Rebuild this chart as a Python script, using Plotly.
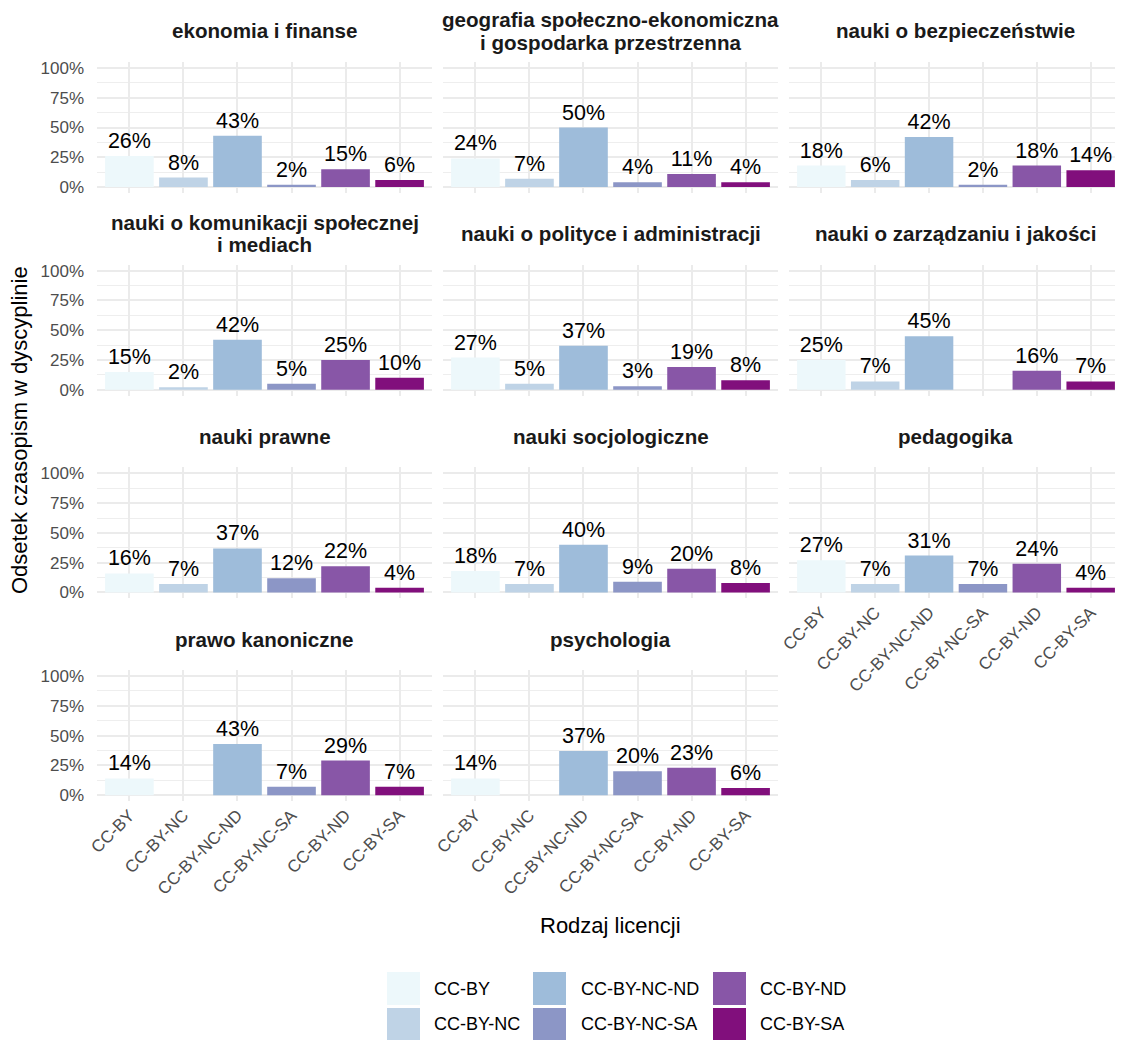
import plotly.graph_objects as go

# ---------------- data ----------------
licenses = ["CC-BY", "CC-BY-NC", "CC-BY-NC-ND", "CC-BY-NC-SA", "CC-BY-ND", "CC-BY-SA"]
colors = ["#edf8fb", "#bfd3e6", "#9ebcda", "#8c96c6", "#8856a7", "#810f7c"]

disciplines = [
    "ekonomia i finanse",
    "geografia społeczno-ekonomiczna\ni gospodarka przestrzenna",
    "nauki o bezpieczeństwie",
    "nauki o komunikacji społecznej\ni mediach",
    "nauki o polityce i administracji",
    "nauki o zarządzaniu i jakości",
    "nauki prawne",
    "nauki socjologiczne",
    "pedagogika",
    "prawo kanoniczne",
    "psychologia",
]

ekonomia = [26, 8, 43, 2, 15, 6]
geografia = [24, 7, 50, 4, 11, 4]
bezpieczenstwo = [18, 6, 42, 2, 18, 14]
komunikacja = [15, 2, 42, 5, 25, 10]
polityka = [27, 5, 37, 3, 19, 8]
zarzadzanie = [25, 7, 45, None, 16, 7]
prawne = [16, 7, 37, 12, 22, 4]
socjologia = [18, 7, 40, 9, 20, 8]
pedagogika = [27, 7, 31, 7, 24, 4]
kanoniczne = [14, None, 43, 7, 29, 7]
psychologia = [14, None, 37, 20, 23, 6]

values = [ekonomia, geografia, bezpieczenstwo, komunikacja, polityka, zarzadzanie,
          prawne, socjologia, pedagogika, kanoniczne, psychologia]

ytick_vals = [0, 25, 50, 75, 100]
ytick_text = ["0%", "25%", "50%", "75%", "100%"]
ytick_minor = [12.5, 37.5, 62.5, 87.5]

# ---------------- layout helpers ----------------
# the page body adds an 8px margin, so the figure is made smaller and
# all page-pixel positions are shifted by that offset
OFF = 8
W, H = 1123 - OFF, 1041 - OFF
FONT = "Liberation Sans, Arial, Helvetica, sans-serif"


def fx(px):
    return (px - OFF) / W


def fy(py):
    return 1 - (py - OFF) / H


col_px = [(97, 432), (443, 778), (789, 1123)]
row_step = 202.7
row_top0 = 62
panel_h = 131
strip_center = 31
strip_line_gap = 22

fig = go.Figure()
annotations = []
shapes = []

n = len(disciplines)
for i in range(n):
    r, c = divmod(i, 3)
    suffix = "" if i == 0 else str(i + 1)
    vals = values[i]
    fig.add_trace(go.Bar(
        x=licenses,
        y=vals,
        marker=dict(color=colors, line=dict(width=0)),
        text=["" if v is None else f"{v}%" for v in vals],
        textposition="outside",
        textfont=dict(family=FONT, size=21.5, color="black"),
        constraintext="none",
        cliponaxis=False,
        showlegend=False,
        hoverinfo="skip",
        xaxis="x" + suffix,
        yaxis="y" + suffix,
    ))
    top = row_top0 + r * row_step
    bottom = top + panel_h
    x0, x1 = col_px[c]
    bottom_of_col = (i == 8) or (i >= 9)
    fig.layout["xaxis" + suffix] = dict(
        domain=[max(0, fx(x0)), min(1, fx(x1))],
        anchor="y" + suffix,
        type="category",
        categoryorder="array",
        categoryarray=licenses,
        range=[-0.6, 5.6],
        showgrid=True,
        gridcolor="#ebebeb",
        gridwidth=2,
        zeroline=False,
        showline=False,
        ticks="",
        automargin=False,
        showticklabels=bottom_of_col,
        tickangle=-45,
        tickfont=dict(family=FONT, size=17, color="#4d4d4d"),
    )
    fig.layout["yaxis" + suffix] = dict(
        domain=[fy(bottom), fy(top)],
        anchor="x" + suffix,
        range=[-5, 105],
        tickmode="array",
        tickvals=ytick_vals,
        ticktext=ytick_text,
        showgrid=True,
        gridcolor="#ebebeb",
        gridwidth=2,
        minor=dict(tickvals=ytick_minor, showgrid=True, gridcolor="#eeeeee", gridwidth=1.1, ticks=""),
        zeroline=False,
        showline=False,
        ticks="",
        automargin=False,
        showticklabels=(c == 0),
        ticklabelstandoff=12,
        tickfont=dict(family=FONT, size=17, color="#4d4d4d"),
    )
    lines = disciplines[i].split("\n")
    nl = len(lines)
    for j, line in enumerate(lines):
        cy = strip_center + r * row_step + (j - (nl - 1) / 2) * strip_line_gap
        annotations.append(dict(
            text="<b>" + line + "</b>",
            x=fx((x0 + x1) / 2), y=fy(cy),
            xref="paper", yref="paper",
            xanchor="center", yanchor="middle",
            showarrow=False,
            font=dict(family=FONT, size=20.6, color="#1a1a1a"),
        ))

# axis titles
annotations.append(dict(
    text="Rodzaj licencji", x=fx(610), y=fy(925), xref="paper", yref="paper",
    xanchor="center", yanchor="middle", showarrow=False,
    font=dict(family=FONT, size=22, color="black"),
))
annotations.append(dict(
    text="Odsetek czasopism w dyscyplinie", x=fx(19), y=fy(430), xref="paper", yref="paper",
    xanchor="center", yanchor="middle", showarrow=False, textangle=-90,
    font=dict(family=FONT, size=22, color="black"),
))

# legend (column-major, 2 rows x 3 cols)
key_x = [387, 533, 713]
text_x = [432, 579, 758]
key_y = [(972, 1005), (1008, 1040)]
for k, (lab, col) in enumerate(zip(licenses, colors)):
    cc, rr = divmod(k, 2)
    ya, yb = key_y[rr]
    shapes.append(dict(
        type="rect", xref="paper", yref="paper",
        x0=fx(key_x[cc]), x1=fx(key_x[cc] + 33), y0=fy(yb), y1=fy(ya),
        fillcolor=col, line=dict(width=0),
    ))
    annotations.append(dict(
        text=lab, x=fx(text_x[cc]), y=fy((ya + yb) / 2), xref="paper", yref="paper",
        xanchor="left", yanchor="middle", showarrow=False,
        font=dict(family=FONT, size=18, color="black"),
    ))

fig.update_layout(
    width=W, height=H,
    autosize=False,
    margin=dict(l=0, r=0, t=0, b=0, pad=0, autoexpand=False),
    paper_bgcolor="white",
    plot_bgcolor="white",
    bargap=0.1,
    annotations=annotations,
    shapes=shapes,
    font=dict(family=FONT),
)

fig.write_html("out.html")
